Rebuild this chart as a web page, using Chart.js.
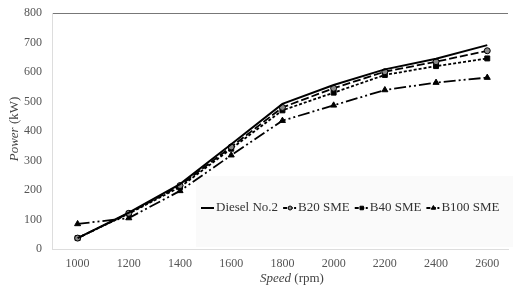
<!DOCTYPE html>
<html>
<head>
<meta charset="utf-8">
<script src="https://cdn.jsdelivr.net/npm/chart.js@4"></script>
<style>
  html, body { margin: 0; padding: 0; background: #fff; }
  #wrap { width: 513px; height: 287px; position: relative; }
</style>
</head>
<body>
<div id="wrap"><canvas id="powerChart"></canvas></div>
<script>
// ---- data ----
const speeds = [1000, 1200, 1400, 1600, 1800, 2000, 2200, 2400, 2600];
const diesel = [37, 123, 220, 355, 492, 556, 609, 645, 691];
const b20    = [37, 121, 215, 346, 480, 545, 601, 635, 672];
const b40    = [37, 120, 210, 340, 470, 530, 590, 620, 646];
const b100   = [85, 105, 197, 318, 435, 487, 539, 564, 581];
const yTicks = [0, 100, 200, 300, 400, 500, 600, 700, 800];

const serif = "'Liberation Serif', 'DejaVu Serif', serif";

function pts(vals) {
  return vals.map((v, i) => ({ x: speeds[i], y: v }));
}

// legend inside the plot + axis titles with italic words
const extras = {
  id: 'extras',
  beforeDatasetsDraw(chart) {
    const ctx = chart.ctx;
    ctx.save();
    ctx.fillStyle = '#fafafa';
    ctx.fillRect(196, 176, 317, 71);
    ctx.restore();
  },
  afterDraw(chart) {
    const ctx = chart.ctx;
    const area = chart.chartArea;
    ctx.save();

    // legend
    ctx.font = '13px ' + serif;
    ctx.textBaseline = 'middle';
    let x = 201;
    const y = 208;
    chart.data.datasets.forEach(ds => {
      ctx.strokeStyle = '#000';
      ctx.lineWidth = 2;
      ctx.setLineDash(ds.borderDash ? [4, 1.5] : []);
      ctx.beginPath();
      ctx.moveTo(x, y);
      ctx.lineTo(x + 13, y);
      ctx.stroke();
      ctx.setLineDash([]);
      if (ds.pointRadius > 0) {
        ctx.fillStyle = ds.pointBackgroundColor;
        ctx.strokeStyle = '#000';
        ctx.lineWidth = 1;
        Chart.helpers.drawPoint(ctx, {
          pointStyle: ds.pointStyle, radius: ds.pointRadius - 1, rotation: 0, borderWidth: 1
        }, x + 7, y);
      }
      x += 15;
      ctx.fillStyle = '#333';
      ctx.textAlign = 'left';
      ctx.fillText(ds.label, x, y);
      x += ctx.measureText(ds.label).width + 5;
    });

    // x title: "Speed (rpm)"
    ctx.fillStyle = '#444';
    ctx.textBaseline = 'middle';
    const it1 = 'italic 13px ' + serif, rg = '13px ' + serif;
    ctx.font = it1;
    const w1 = ctx.measureText('Speed').width;
    ctx.font = rg;
    const w2 = ctx.measureText(' (rpm)').width;
    let sx = (area.left + area.right) / 2 + 12 - (w1 + w2) / 2;
    ctx.font = it1; ctx.textAlign = 'left';
    ctx.fillText('Speed', sx, 279);
    ctx.font = rg;
    ctx.fillText(' (rpm)', sx + w1, 279);

    // y title: "Power (kW)" rotated
    ctx.translate(15, 129);
    ctx.rotate(-Math.PI / 2);
    ctx.font = it1;
    const w3 = ctx.measureText('Power').width;
    ctx.font = rg;
    const w4 = ctx.measureText(' (kW)').width;
    let sy = -(w3 + w4) / 2;
    ctx.font = it1;
    ctx.fillText('Power', sy, 0);
    ctx.font = rg;
    ctx.fillText(' (kW)', sy + w3, 0);
    ctx.restore();
  }
};

const common = { borderColor: '#000', pointBorderColor: '#000', pointBorderWidth: 1, fill: false, tension: 0 };

new Chart(document.getElementById('powerChart'), {
  type: 'line',
  data: {
    datasets: [
      Object.assign({}, common, { label: 'Diesel No.2', data: pts(diesel), borderWidth: 2, pointRadius: 0 }),
      Object.assign({}, common, { label: 'B20 SME', data: pts(b20), borderWidth: 1.8, borderDash: [8, 3],
        pointStyle: 'circle', pointRadius: 3, pointBackgroundColor: '#888' }),
      Object.assign({}, common, { label: 'B40 SME', data: pts(b40), borderWidth: 1.8, borderDash: [3, 2],
        pointStyle: 'rect', pointRadius: 3.5, pointBackgroundColor: '#000' }),
      Object.assign({}, common, { label: 'B100 SME', data: pts(b100), borderWidth: 1.8, borderDash: [12, 3, 2, 3, 2, 3],
        pointStyle: 'triangle', pointRadius: 3.5, pointBackgroundColor: '#000' })
    ]
  },
  options: {
    responsive: true,
    maintainAspectRatio: false,
    animation: false,
    layout: { padding: { top: 13, right: 0, left: 0, bottom: 0 } },
    plugins: {
      legend: { display: false },
      tooltip: { enabled: false }
    },
    scales: {
      x: {
        type: 'linear',
        min: 900,
        max: 2681,
        afterBuildTicks(scale) { scale.ticks = speeds.map(v => ({ value: v })); },
        afterFit(scale) { scale.height = 38; },
        grid: { display: false, drawTicks: false },
        border: { display: true, color: '#ddd', width: 1 },
        ticks: { color: '#555', font: { family: serif, size: 12 }, padding: 8, maxRotation: 0, autoSkip: false,
          callback: v => String(v) }
      },
      y: {
        min: 0,
        max: 800,
        afterBuildTicks(scale) { scale.ticks = yTicks.map(v => ({ value: v })); },
        afterFit(scale) { scale.width = 52; },
        grid: {
          drawTicks: true,
          tickLength: 6,
          tickColor: 'rgba(0,0,0,0)',
          color: ctx => ctx.tick && ctx.tick.value === 800 ? '#777' : 'rgba(0,0,0,0)',
          lineWidth: 1
        },
        border: { display: true, color: '#ddd', width: 1 },
        ticks: { color: '#555', font: { family: serif, size: 12 }, padding: 4, callback: v => String(v) }
      }
    }
  },
  plugins: [extras]
});
</script>
</body>
</html>
